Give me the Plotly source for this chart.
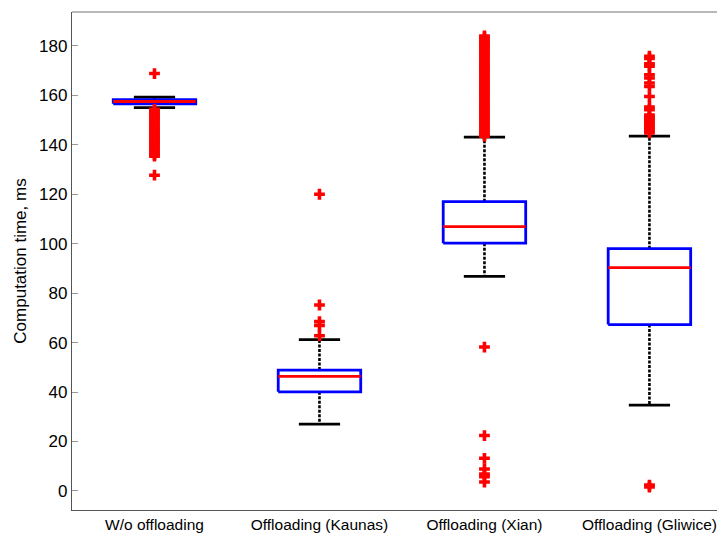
import plotly.graph_objects as go

# ---------------- data ----------------
categories = ["W/o offloading", "Offloading (Kaunas)", "Offloading (Xian)", "Offloading (Gliwice)"]
q1 = [156.6, 40.1, 100.2, 67.3]
median = [157.5, 46.3, 106.9, 90.3]
q3 = [158.3, 48.9, 117.0, 98.0]
lower_whisker = [155.0, 27.0, 86.8, 34.7]
upper_whisker = [159.3, 61.2, 143.1, 143.5]

outliers_wo = [168.8, 154.4, 153.6, 152.8, 152.0, 151.2, 150.4, 149.6, 148.8, 148.0,
               147.2, 146.4, 145.6, 144.8, 144.0, 143.2, 142.4, 141.6, 140.8, 140.0,
               139.2, 138.4, 137.6, 136.8, 136.0, 135.4, 127.7]
outliers_kaunas = [120.0, 75.2, 68.5, 66.9, 62.8]
outliers_xian = [184.0, 183.2, 182.4, 181.6, 180.8, 180.0, 179.2, 178.3, 177.4, 176.5,
                 175.6, 174.7, 173.8, 172.9, 172.0, 171.1, 170.2, 169.3, 168.4, 167.5,
                 166.6, 165.7, 164.8, 163.9, 163.0, 162.1, 161.2, 160.3, 159.4, 158.5,
                 157.6, 156.7, 155.8, 154.9, 154.0, 153.1, 152.2, 151.3, 150.4, 149.5,
                 148.6, 147.7, 146.8, 145.9, 145.0, 144.1, 143.5,
                 58.2, 22.4, 13.2, 8.9, 6.8, 5.8, 3.6]
outliers_gliwice = [175.8, 174.9, 172.8, 171.8, 168.3, 167.0, 165.0, 163.6, 159.5, 155.3,
                    154.2, 152.0, 151.2, 150.4, 149.6, 148.8, 148.0, 147.2, 146.4, 145.6,
                    144.8, 2.4, 1.6]
outliers = [outliers_wo, outliers_kaunas, outliers_xian, outliers_gliwice]

y_ticks = [0, 20, 40, 60, 80, 100, 120, 140, 160, 180]

# ---------------- style ----------------
BOX_HALF = 0.25
CAP_HALF = 0.125
FONT = "Liberation Sans, Arial, sans-serif"

fig = go.Figure()

for i, cat in enumerate(categories):
    xc = i + 1
    # whiskers (dotted)
    fig.add_trace(go.Scatter(
        x=[xc, xc, None, xc, xc],
        y=[q3[i], upper_whisker[i], None, q1[i], lower_whisker[i]],
        mode="lines", line=dict(color="black", width=2.6, dash="3px,1.5px"),
        hoverinfo="skip", showlegend=False))
    # caps
    fig.add_trace(go.Scatter(
        x=[xc - CAP_HALF, xc + CAP_HALF, None, xc - CAP_HALF, xc + CAP_HALF],
        y=[upper_whisker[i], upper_whisker[i], None, lower_whisker[i], lower_whisker[i]],
        mode="lines", line=dict(color="black", width=2.8),
        hoverinfo="skip", showlegend=False))
    # box
    fig.add_trace(go.Scatter(
        x=[xc - BOX_HALF, xc + BOX_HALF, xc + BOX_HALF, xc - BOX_HALF, xc - BOX_HALF],
        y=[q1[i], q1[i], q3[i], q3[i], q1[i]],
        mode="lines", line=dict(color="#0000ff", width=2.8),
        hoverinfo="skip", showlegend=False))
    # median
    fig.add_trace(go.Scatter(
        x=[xc - BOX_HALF, xc + BOX_HALF],
        y=[median[i], median[i]],
        mode="lines", line=dict(color="#ff0000", width=2.8),
        hoverinfo="skip", showlegend=False))

for i, cat in enumerate(categories):
    fig.add_trace(go.Scatter(
        x=[i + 1] * len(outliers[i]), y=outliers[i],
        mode="markers",
        marker=dict(symbol="cross", size=9, color="#ff0000", line=dict(width=0)),
        name=cat, showlegend=False))

# the page adds an 8px body margin, so the figure is sized to fill the rest
fig.update_layout(
    width=717, height=525,
    margin=dict(l=64, r=0, t=4, b=23),
    paper_bgcolor="white", plot_bgcolor="white",
    font=dict(family=FONT, color="black"),
    showlegend=False,
    shapes=[dict(type="line", xref="paper", yref="paper", x0=0, x1=1, y0=1, y1=1,
                 line=dict(color="#a0a0a0", width=1.5))],
)
fig.update_xaxes(
    range=[0.5, 4.458], tickmode="array", tickvals=[1, 2, 3, 4], ticktext=categories,
    showgrid=False, zeroline=False, showline=True, linecolor="#555555", linewidth=1.3,
    ticks="", tickfont=dict(size=15.5, family=FONT, color="black"))
fig.update_yaxes(
    range=[-7.7, 193.7], tickmode="array", tickvals=y_ticks,
    showgrid=False, zeroline=False, showline=True, linecolor="#555555", linewidth=1.3,
    ticks="inside", ticklen=6, tickcolor="#999999", tickwidth=1,
    tickfont=dict(size=17, family=FONT, color="black"),
    title=dict(text="Computation time, ms", font=dict(size=17, family=FONT, color="black"),
               standoff=8))

fig.write_html("out.html")
